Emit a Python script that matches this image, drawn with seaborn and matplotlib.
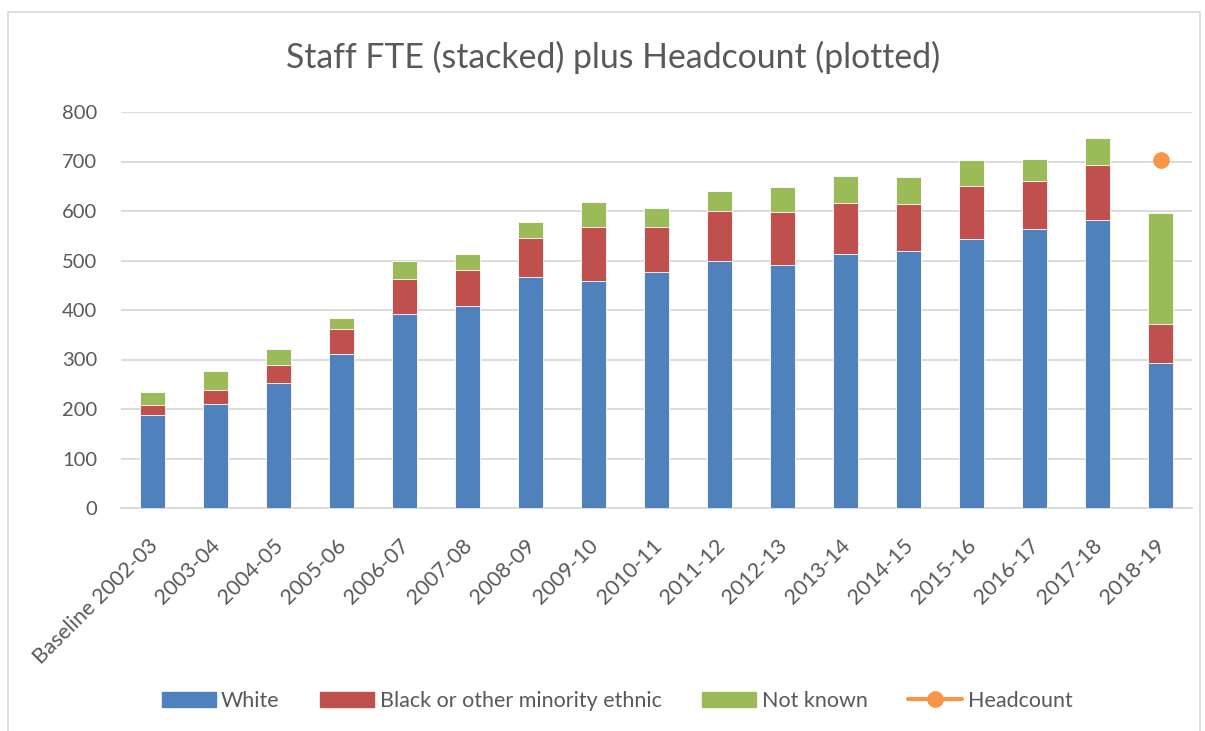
import numpy as np
import pandas as pd
import matplotlib
matplotlib.use("Agg")
import matplotlib.pyplot as plt
import matplotlib.transforms as mtransforms
import seaborn as sns
from matplotlib.patches import Patch, Rectangle
from matplotlib.lines import Line2D

categories = ["Baseline 2002-03", "2003-04", "2004-05", "2005-06", "2006-07", "2007-08",
              "2008-09", "2009-10", "2010-11", "2011-12", "2012-13", "2013-14", "2014-15",
              "2015-16", "2016-17", "2017-18", "2018-19"]
white = [187, 211, 252, 312, 392, 409, 467, 458, 477, 500, 491, 513, 520, 543, 563, 581, 293]
bme = [22, 28, 36, 50, 70, 72, 79, 110, 91, 99, 106, 104, 95, 108, 98, 112, 79]
not_known = [26, 38, 33, 21, 36, 32, 32, 50, 38, 41, 51, 54, 54, 52, 45, 54, 224]
headcount = [np.nan] * 16 + [704]

C_WHITE = "#4F81BD"
C_BME = "#C0504D"
C_NK = "#9BBB59"
C_HC = "#F79646"
TXT = "#595959"
GRID = "#D9D9D9"

sns.set_theme(style="white")
plt.rcParams["font.family"] = ["Lato", "DejaVu Sans"]

df = pd.DataFrame({"cat": categories, "white": white, "bme": bme, "nk": not_known})
df["l1"] = df["white"]
df["l2"] = df["white"] + df["bme"]
df["l3"] = df["l2"] + df["nk"]

fig = plt.figure(figsize=(12.05, 7.31), dpi=100)
ax = fig.add_axes([121 / 1205, 1 - 508 / 731, (1192 - 121) / 1205, (508 - 112) / 731])

for col, c in [("l3", C_NK), ("l2", C_BME), ("l1", C_WHITE)]:
    sns.barplot(data=df, x="cat", y=col, color=c, width=0.4, ax=ax,
                saturation=1, edgecolor="white", linewidth=0.6, errorbar=None, zorder=3)

ax.plot(range(len(categories)), headcount, color=C_HC, marker="o", ms=11, lw=3, zorder=5)

ax.set_ylim(0, 800)
ax.set_xlim(-0.5, len(categories) - 0.5)
ax.set_yticks(range(0, 801, 100))
ax.yaxis.grid(True, color=GRID, lw=1.3, zorder=0)
ax.set_axisbelow(True)
for s in ["top", "right", "left"]:
    ax.spines[s].set_visible(False)
ax.spines["bottom"].set_color(GRID)
ax.spines["bottom"].set_linewidth(1.3)
ax.set_xlabel("")
ax.set_ylabel("")
ax.tick_params(axis="y", length=0, pad=17, labelsize=14.5, labelcolor=TXT)
ax.tick_params(axis="x", length=0, pad=25, labelsize=15.5, labelcolor=TXT)
ax.set_xticks(range(len(categories)))
ax.set_xticklabels(categories, rotation=45, ha="right", va="center", rotation_mode="anchor")
offset = mtransforms.ScaledTranslation(0.02, 0, fig.dpi_scale_trans)
for lab in ax.get_xticklabels():
    lab.set_transform(lab.get_transform() + offset)

fig.text(613 / 1205, 1 - 57 / 731, "Staff FTE (stacked) plus Headcount (plotted)",
         ha="center", va="center", fontsize=24.3, color=TXT)

handles = [Patch(color=C_WHITE), Patch(color=C_BME), Patch(color=C_NK),
           Line2D([], [], color=C_HC, marker="o", ms=11, lw=3)]
labels = ["White", "Black or other minority ethnic", "Not known", "Headcount"]
fig.legend(handles, labels, loc="center", bbox_to_anchor=(617 / 1205, 1 - 701 / 731),
           ncol=4, frameon=False, fontsize=15.5, labelcolor=TXT, handlelength=2.5,
           handleheight=0.7, handletextpad=0.25, columnspacing=1.9)

fig.add_artist(Rectangle((8 / 1205, -0.05), (1200 - 8) / 1205, 1.05 - 12 / 731,
                         transform=fig.transFigure, fill=False, edgecolor="#D9D9D9", lw=1.2))

fig.savefig("out.png", dpi=100)
